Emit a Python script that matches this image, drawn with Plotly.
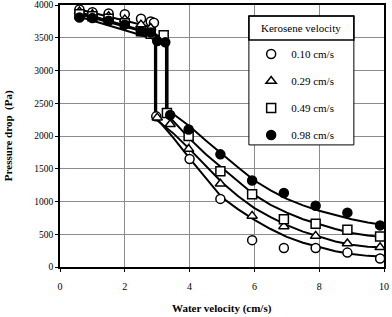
import plotly.graph_objects as go

# measured points (water velocity cm/s, pressure drop Pa), one list pair per kerosene velocity
water_010 = [0.6, 1.0, 1.5, 2.0, 2.5, 2.8, 2.9, 2.97, 4.0, 4.95, 5.93, 6.91, 7.89, 8.87, 9.88]
dp_010 = [3930, 3890, 3870, 3860, 3790, 3750, 3730, 2300, 1650, 1040, 410, 290, 290, 220, 130]

water_029 = [0.6, 1.0, 1.5, 2.0, 2.5, 2.8, 3.0, 3.4, 3.97, 4.95, 5.93, 6.91, 7.89, 8.87, 9.88]
dp_029 = [3900, 3860, 3830, 3780, 3700, 3650, 2280, 2180, 1800, 1270, 780, 620, 475, 360, 300]

water_049 = [0.6, 1.0, 1.5, 2.0, 2.5, 2.8, 3.2, 3.3, 3.97, 4.95, 5.93, 6.91, 7.89, 8.87, 9.88]
dp_049 = [3860, 3830, 3790, 3720, 3600, 3560, 3540, 2350, 2000, 1460, 1110, 730, 660, 570, 465]

water_098 = [0.6, 1.0, 1.5, 2.0, 2.5, 2.8, 3.0, 3.25, 3.4, 3.97, 4.95, 5.93, 6.91, 7.89, 8.87, 9.88]
dp_098 = [3810, 3800, 3760, 3700, 3600, 3580, 3450, 3430, 2320, 2100, 1720, 1320, 1130, 935, 830, 635]

# trend lines
fit_x_010 = [0.6, 2.93, 2.93, 3.5, 4, 4.5, 5, 5.5, 6, 6.5, 7, 7.5, 8, 8.5, 9, 9.5, 9.9]
fit_y_010 = [3930, 3650, 2300, 1970, 1660, 1360, 1060, 880, 720, 580, 460, 370, 300, 240, 200, 170, 160]

fit_x_029 = [0.6, 2.97, 2.97, 3.5, 4, 4.5, 5, 5.5, 6, 6.5, 7, 7.5, 8, 8.5, 9, 9.5, 9.9]
fit_y_029 = [3890, 3550, 2250, 2040, 1800, 1540, 1290, 1080, 900, 760, 640, 540, 460, 390, 340, 310, 300]

fit_x_049 = [0.6, 3.27, 3.27, 4, 4.5, 5, 5.5, 6, 6.5, 7, 7.5, 8, 8.5, 9, 9.5, 9.9]
fit_y_049 = [3860, 3500, 2350, 1960, 1720, 1510, 1300, 1100, 950, 830, 730, 650, 580, 520, 480, 460]

fit_x_098 = [0.6, 3.32, 3.32, 4, 4.5, 5, 5.5, 6, 6.5, 7, 7.5, 8, 8.5, 9, 9.5, 9.9]
fit_y_098 = [3820, 3420, 2400, 2150, 1930, 1720, 1520, 1320, 1170, 1040, 940, 860, 790, 730, 680, 650]

labels = ["0.10 cm/s", "0.29 cm/s", "0.49 cm/s", "0.98 cm/s"]
symbols = ["circle", "triangle-up", "square", "circle"]
fills = ["white", "white", "white", "black"]

FONT = "Liberation Serif, Times New Roman, serif"

fig = go.Figure()

for fx, fy in [(fit_x_010, fit_y_010), (fit_x_029, fit_y_029),
               (fit_x_049, fit_y_049), (fit_x_098, fit_y_098)]:
    fig.add_trace(go.Scatter(x=fx, y=fy, mode="lines", showlegend=False,
                             line=dict(color="black", width=2), hoverinfo="skip"))

series = [(water_010, dp_010), (water_029, dp_029), (water_049, dp_049), (water_098, dp_098)]
for i, (wx, dy) in enumerate(series):
    fig.add_trace(go.Scatter(
        x=wx, y=dy, mode="markers", name=labels[i], legendgroup=str(i),
        marker=dict(symbol=symbols[i], size=9, color=fills[i],
                    line=dict(color="black", width=1.5)),
    ))

# legend frame + title box (drawn as shapes, plotly's legend sits on top)
fig.add_shape(type="rect", xref="paper", yref="paper", x0=0.583, x1=0.907, y0=0.466, y1=0.958,
              line=dict(color="black", width=1), fillcolor="white", layer="above")
fig.add_shape(type="rect", xref="paper", yref="paper", x0=0.583, x1=0.907, y0=0.866, y1=0.958,
              line=dict(color="black", width=1.5), fillcolor="rgba(0,0,0,0)", layer="above")
fig.add_annotation(text="Kerosene velocity", xref="paper", yref="paper", x=0.745, y=0.912,
                   xanchor="center", yanchor="middle", showarrow=False,
                   font=dict(family=FONT, size=11, color="black"))

# axis titles
fig.add_annotation(text="<b>Water velocity (cm/s)</b>", xref="paper", yref="paper", x=0.5, y=-0.16,
                   xanchor="center", yanchor="middle", showarrow=False,
                   font=dict(family=FONT, size=11, color="black"))
fig.add_annotation(text="<b>Pressure drop  (Pa)</b>", xref="paper", yref="paper", x=-0.16, y=0.5,
                   xanchor="center", yanchor="middle", textangle=-90, showarrow=False,
                   font=dict(family=FONT, size=11, color="black"))

fig.update_layout(
    width=392, height=317,
    margin=dict(l=60, r=8, t=5, b=50),
    paper_bgcolor="white", plot_bgcolor="white",
    font=dict(family=FONT, size=10, color="black"),
    legend=dict(x=0.59, y=0.868, xanchor="left", yanchor="top", bgcolor="rgba(0,0,0,0)",
                font=dict(family=FONT, size=11), tracegroupgap=8),
)
fig.update_xaxes(range=[0, 10], dtick=2, showgrid=True, gridcolor="#8c8c8c", gridwidth=1,
                 showline=True, linecolor="black", linewidth=1.5, mirror=True,
                 ticks="outside", ticklen=3, tickcolor="black", zeroline=False,
                 automargin=False, ticklabeloverflow="allow", ticklabelstandoff=6)
fig.update_yaxes(range=[0, 4000], dtick=500, showgrid=True, gridcolor="#8c8c8c", gridwidth=1,
                 showline=True, linecolor="black", linewidth=1.5, mirror=True,
                 ticks="outside", ticklen=3, tickcolor="black", zeroline=False,
                 automargin=False, ticklabeloverflow="allow", tickfont=dict(size=9.5))

# drop the page's default body margin so the figure sits at the window's corner
fig.write_html("out.html", config={"displayModeBar": False},
               post_script="document.body.style.margin='0';")
